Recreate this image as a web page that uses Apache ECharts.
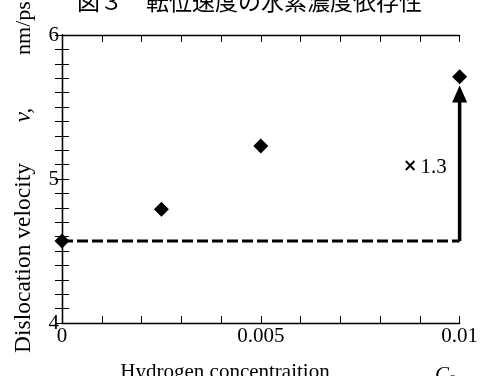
<!DOCTYPE html>
<html><head><meta charset="utf-8">
<script src="https://cdn.jsdelivr.net/npm/echarts@6/dist/echarts.min.js"></script>
<style>html,body{margin:0;padding:0;background:#fff}#c{width:481px;height:376px}</style>
</head><body><div id="c"></div>
<script>
var concentrations = [0, 0.0025, 0.005, 0.01];
var velocities = [4.57, 4.79, 5.23, 5.71];
var baseline = 4.57;
var arrowTop = 5.59;
var xTicks = [0, 0.005, 0.01];
var yTicks = [4, 5, 6];
var titleText = '図３　転位速度の水素濃度依存性';
var ratioText = '1.3';

var chart = echarts.init(document.getElementById('c'));
var serif = '"Liberation Serif","Times New Roman",serif';
var xStep = xTicks[1] - xTicks[0];
var yStep = yTicks[1] - yTicks[0];
function isMajor(v, step) { var r = v / step; return Math.abs(r - Math.round(r)) < 1e-6; }

function xAx(pos, showLabel) {
  return {type: 'value', position: pos, min: xTicks[0], max: xTicks[2], interval: xStep / 5,
    axisLine: {show: true, lineStyle: {color: '#000', width: 1.3}},
    axisTick: {show: true, inside: true, length: 7, lineStyle: {color: '#000', width: 1}},
    splitLine: {show: false},
    axisLabel: {show: showLabel, margin: 3, color: '#000', fontFamily: serif, fontSize: 21,
      formatter: function (v) { if (!isMajor(v, xStep)) return ''; return v === 0 ? '0' : String(+v.toFixed(4)); }}};
}
function yAx(pos, showLabel) {
  return {type: 'value', position: pos, min: yTicks[0], max: yTicks[2], interval: yStep / 10,
    axisLine: {show: true, lineStyle: {color: '#000', width: 1.3}},
    axisTick: {show: true, inside: true, length: 7, lineStyle: {color: '#000', width: 1}},
    splitLine: {show: false},
    axisLabel: {show: showLabel, margin: 3, color: '#000', fontFamily: serif, fontSize: 21,
      formatter: function (v) { return isMajor(v, yStep) ? String(Math.round(v)) : ''; }}};
}

var data = concentrations.map(function (c, i) { return [c, velocities[i]]; });
var xMax = concentrations[concentrations.length - 1];

chart.setOption({
  animation: false,
  grid: {left: 62, right: 18, top: 35, bottom: 53},
  xAxis: [xAx('bottom', true), xAx('top', false)],
  yAxis: [yAx('left', true), yAx('right', false)],
  series: [
    {type: 'line', data: [[concentrations[0], baseline], [xMax, baseline]], symbol: 'none', clip: false,
      lineStyle: {color: '#000', width: 3, type: [11, 4]}, z: 2},
    {type: 'line', data: [[xMax, baseline], [xMax, arrowTop]], symbol: 'none', clip: false,
      lineStyle: {color: '#000', width: 3.5}, z: 2},
    {type: 'scatter', data: [[xMax, arrowTop]], symbol: 'triangle', symbolSize: [15, 17], clip: false,
      itemStyle: {color: '#000', opacity: 1}, z: 3},
    {type: 'scatter', data: data, symbol: 'diamond', symbolSize: 15, clip: false,
      itemStyle: {color: '#000', opacity: 1}, z: 4}
  ],
  graphic: [
    {type: 'text', x: 77, y: 13, style: {text: titleText, font: '23px "Noto Sans CJK JP"', fill: '#000',
      textAlign: 'left', textVerticalAlign: 'bottom'}},
    {type: 'text', x: 24, y: 258, rotation: Math.PI / 2,
      style: {text: 'Dislocation velocity', font: '23.5px ' + serif, fill: '#000', textAlign: 'center', textVerticalAlign: 'middle'}},
    {type: 'text', x: 24, y: 115, rotation: Math.PI / 2,
      style: {text: 'v,', font: 'italic 23px ' + serif, fill: '#000', textAlign: 'center', textVerticalAlign: 'middle'}},
    {type: 'text', x: 24, y: 28, rotation: Math.PI / 2,
      style: {text: 'nm/ps', font: '22px ' + serif, fill: '#000', textAlign: 'center', textVerticalAlign: 'middle'}},
    {type: 'text', x: 225, y: 362,
      style: {text: 'Hydrogen concentraition', font: '21px ' + serif, fill: '#000', textAlign: 'center', textVerticalAlign: 'top'}},
    {type: 'text', x: 435, y: 362,
      style: {text: '{c|C}{s|0}', fill: '#000', textAlign: 'left', textVerticalAlign: 'top',
        rich: {c: {fontFamily: serif, fontStyle: 'italic', fontSize: 21, color: '#000'},
               s: {fontFamily: serif, fontSize: 15, color: '#000', padding: [12, 0, 0, 0]}}}},
    {type: 'text', x: 403, y: 167,
      style: {text: '{x|×} {n|' + ratioText + '}', textAlign: 'left', textVerticalAlign: 'middle',
        rich: {x: {fontFamily: '"DejaVu Sans"', fontWeight: 'bold', fontSize: 17, color: '#000'},
               n: {fontFamily: serif, fontSize: 21, color: '#000'}}}}
  ]
});
</script></body></html>
